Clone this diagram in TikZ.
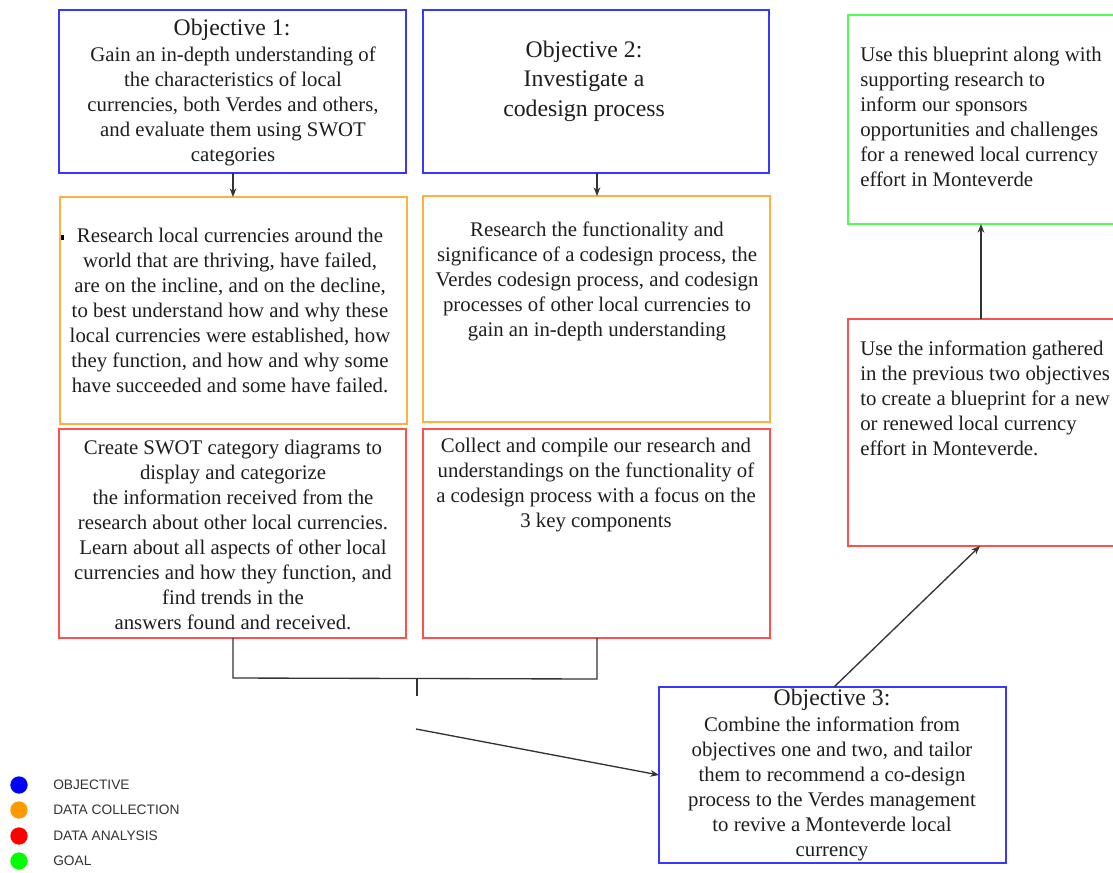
\documentclass[tikz,border=0pt]{standalone}
\usepackage{fontspec}
\setmainfont{Liberation Serif}
\newfontfamily\legendfont{Liberation Sans}
\usetikzlibrary{arrows.meta}
\definecolor{cobj}{RGB}{55,55,255}
\definecolor{cdata}{RGB}{255,176,64}
\definecolor{cana}{RGB}{255,80,80}
\definecolor{cgoal}{RGB}{80,255,80}
\definecolor{ctext}{RGB}{30,30,30}
\definecolor{legblue}{RGB}{0,0,255}
\definecolor{legorange}{RGB}{255,153,0}
\definecolor{legred}{RGB}{255,0,0}
\definecolor{leggreen}{RGB}{0,255,0}
\tikzset{
  bx/.style n args={2}{draw, line width=1pt, minimum width=#1*0.75pt, minimum height=#2*0.75pt, inner sep=0pt, outer sep=0pt},
  body/.style={text=ctext, inner sep=0pt, font=\fontsize{15.6}{18.75}\selectfont},
  ttl/.style={text=ctext, inner sep=0pt, font=\fontsize{17.8}{22}\selectfont, align=center},
  conn/.style={draw=black!80, line width=1pt},
  arr/.style={conn, -{Stealth[length=6.5pt,width=5pt]}},
  legtxt/.style={text=black!80, inner sep=0pt, anchor=west, font=\legendfont\fontsize{10.3}{11}\selectfont},
  legdot/.style={circle, minimum size=13pt, inner sep=0pt}
}
\begin{document}
\begin{tikzpicture}[x=0.75pt,y=-0.75pt]
\clip (0,0) rectangle (1113,872);
\fill[white] (0,0) rectangle (1113,872);
% boxes
\node[bx={347}{163}, draw=cobj] (obj1) at (232.5,91.5) {};
\node[bx={346}{163}, draw=cobj] (obj2) at (596,91.5) {};
\node[bx={347}{227}, draw=cdata] (or1) at (233.5,310.5) {};
\node[bx={347}{226}, draw=cdata] (or2) at (596.5,309) {};
\node[bx={347}{209}, draw=cana] (rd1) at (232.5,533.5) {};
\node[bx={347}{209}, draw=cana] (rd2) at (596.5,533.5) {};
\node[bx={266}{209}, draw=cgoal] (goal) at (981,119.5) {};
\node[bx={266}{227}, draw=cana] (rdR) at (981,432.5) {};
\node[bx={347}{176}, draw=cobj] (obj3) at (832.5,775) {};
% texts
\node[ttl] (t1a) at (232,30) {Objective 1:};
\node[body, align=center] (t1b) at (233,106) {Gain an in-depth understanding of\\the characteristics of local\\currencies, both Verdes and others,\\and evaluate them using SWOT\\categories};
\node[ttl] (t2) at (584,81) {Objective 2:\\Investigate a\\codesign process};
\node[body, align=center] (t3) at (230,310) {Research local currencies around the\\world that are thriving, have failed,\\are on the incline, and on the decline,\\to best understand how and why these\\local currencies were established, how\\they function, and how and why some\\have succeeded and some have failed.};
\node[body, align=center] (t4) at (597,281) {Research the functionality and\\significance of a codesign process, the\\Verdes codesign process, and codesign\\processes of other local currencies to\\gain an in-depth understanding};
\node[body, align=center] (t5) at (233,535) {Create SWOT category diagrams to\\display and categorize\\the information received from the\\research about other local currencies.\\Learn about all aspects of other local\\currencies and how they function, and\\find trends in the\\answers found and received.};
\node[body, align=center] (t6) at (596,485.5) {Collect and compile our research and\\understandings on the functionality of\\a codesign process with a focus on the\\3 key components};
\node[body, align=left, anchor=west] (t7) at (860,117) {Use this blueprint along with\\supporting research to\\inform our sponsors\\opportunities and challenges\\for a renewed local currency\\effort in Monteverde};
\node[body, align=left, anchor=west] (t8) at (860,398) {Use the information gathered\\in the previous two objectives\\to create a blueprint for a new\\or renewed local currency\\effort in Monteverde.};
\node[ttl] (t9a) at (832,700) {Objective 3:};
\node[body, align=center] (t9b) at (832,789) {Combine the information from\\objectives one and two, and tailor\\them to recommend a co-design\\process to the Verdes management\\to revive a Monteverde local\\currency};
% stray mark
\fill[black] (61,235) rectangle (63.5,239.5);
% connectors
\draw[arr] (obj1.south -| 233,0) -- (or1.north -| 233,0);
\draw[arr] (obj2.south -| 597,0) -- (or2.north -| 597,0);
\coordinate (jn) at (417,679);
\coordinate (jt) at (417,696);
\coordinate (js) at (416,729);
\draw[conn] (rd1.south -| 233,0) -- (233,678) -- (597,679) -- (rd2.south -| 597,0);
\draw[conn] (jn) -- (jt);
\draw[arr] (js) -- (obj3.west);
\draw[arr] (obj3.north -| 834,0) -- (rdR.south -| 980,0);
\draw[arr] (rdR.north) -- (goal.south);
% legend
\node[legdot, fill=legblue] (l1) at (19,785) {};
\node[legdot, fill=legorange] (l2) at (19,810) {};
\node[legdot, fill=legred] (l3) at (19,836) {};
\node[legdot, fill=leggreen] (l4) at (19,861) {};
\node[legtxt] (lt1) at (53,785) {OBJECTIVE};
\node[legtxt] (lt2) at (53,810) {DATA COLLECTION};
\node[legtxt] (lt3) at (53,836) {DATA ANALYSIS};
\node[legtxt] (lt4) at (53,861) {GOAL};
\end{tikzpicture}
\end{document}
